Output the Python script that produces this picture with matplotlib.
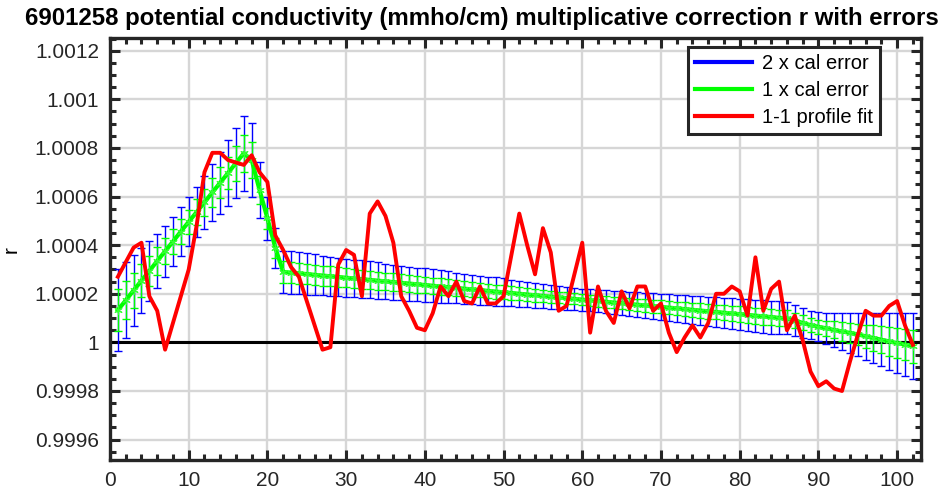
import numpy as np
import matplotlib
matplotlib.use('Agg')
import matplotlib.pyplot as plt
from matplotlib.lines import Line2D
from matplotlib.ticker import MultipleLocator, FixedLocator

plt.rcParams['font.family'] = ['Liberation Sans', 'DejaVu Sans']

# profile numbers
profiles = np.arange(1, 103)

# calibration fit r (centre of the error bars)
r_fit = [1.000133, 1.000173, 1.000214, 1.000254, 1.000294, 1.000335, 1.000375, 1.000415,
         1.000456, 1.000496, 1.000536, 1.000576, 1.000617, 1.000657, 1.000697, 1.000738,
         1.000778, 1.000750, 1.000627, 1.000510, 1.000390, 1.000290, 1.000287, 1.000284,
         1.000281, 1.000278, 1.000275, 1.000272, 1.000269, 1.000266, 1.000263, 1.000260,
         1.000257, 1.000254, 1.000251, 1.000248, 1.000245, 1.000242, 1.000239, 1.000236,
         1.000233, 1.000230, 1.000227, 1.000224, 1.000221, 1.000218, 1.000215, 1.000212,
         1.000209, 1.000206, 1.000203, 1.000200, 1.000197, 1.000194, 1.000191, 1.000188,
         1.000185, 1.000182, 1.000179, 1.000176, 1.000173, 1.000170, 1.000167, 1.000164,
         1.000161, 1.000158, 1.000155, 1.000152, 1.000149, 1.000146, 1.000143, 1.000140,
         1.000137, 1.000134, 1.000131, 1.000128, 1.000125, 1.000122, 1.000119, 1.000116,
         1.000113, 1.000110, 1.000107, 1.000104, 1.000101, 1.000099, 1.000090, 1.000080,
         1.000071, 1.000064, 1.000058, 1.000051, 1.000045, 1.000039, 1.000033, 1.000025,
         1.000018, 1.000011, 1.000004, 0.999997, 0.999991, 0.999985]

# 2 x cal error half-width, in units of 1e-6
err_2x_ppm = [170, 156, 145, 133, 122, 112, 105, 101, 100, 101, 104, 110, 118, 127, 135, 144,
              154, 151, 116, 89, 82, 88, 87, 86, 85, 84, 82, 81, 80, 79, 78, 77,
              76, 75, 73, 72, 71, 70, 69, 68, 67, 66, 65, 63, 62, 61, 60, 59,
              58, 57, 55, 54, 53, 52, 51, 49, 48, 47, 46, 45, 45, 46, 47, 48,
              49, 50, 51, 52, 53, 54, 55, 56, 57, 58, 59, 60, 61, 62, 63, 64,
              65, 66, 67, 68, 68, 66, 64, 62, 59, 59, 64, 70, 76, 82, 88, 96,
              103, 110, 117, 124, 130, 136]

# 1-1 profile fit
r_profile = [1.00027, 1.00033, 1.00039, 1.00041, 1.00019, 1.00013, 0.99997, 1.00008,
             1.00019, 1.00030, 1.00048, 1.00070, 1.00078, 1.00078, 1.00075, 1.00074,
             1.00073, 1.00077, 1.00070, 1.00066, 1.00044, 1.00038, 1.00031, 1.00027,
             1.00017, 1.00007, 0.99997, 0.99998, 1.00032, 1.00038, 1.00036, 1.00019,
             1.00053, 1.00058, 1.00052, 1.00041, 1.00019, 1.00013, 1.00006, 1.00005,
             1.00012, 1.00023, 1.00019, 1.00025, 1.00017, 1.00016, 1.00023, 1.00016,
             1.00016, 1.00019, 1.00036, 1.00053, 1.00040, 1.00028, 1.00047, 1.00037,
             1.00013, 1.00015, 1.00028, 1.00041, 1.00004, 1.00023, 1.00013, 1.00008,
             1.00021, 1.00014, 1.00023, 1.00023, 1.00013, 1.00016, 1.00004, 0.99996,
             1.00002, 1.00007, 1.00002, 1.00008, 1.00020, 1.00020, 1.00023, 1.00021,
             1.00011, 1.00035, 1.00013, 1.00022, 1.00025, 1.00005, 1.00011, 1.00001,
             0.99988, 0.99982, 0.99984, 0.99981, 0.99980, 0.99992, 1.00003, 1.00013,
             1.00011, 1.00011, 1.00015, 1.00017, 1.00007, 0.99999]

ytick_vals = [0.9996, 0.9998, 1.0, 1.0002, 1.0004, 1.0006, 1.0008, 1.001, 1.0012]
ytick_labels = ['0.9996', '0.9998', '1', '1.0002', '1.0004', '1.0006', '1.0008', '1.001', '1.0012']

r_fit = np.array(r_fit)
err2 = np.array(err_2x_ppm) * 1e-6
err1 = err2 / 2

fig = plt.figure(figsize=(9.45, 4.97), dpi=100)
ax = fig.add_axes([0.1164, 0.0744, 0.8579, 0.8485])

ax.grid(True, which='major', color='#d6d6d6', linewidth=1.7, zorder=0)
ax.set_axisbelow(True)

ax.axhline(1.0, color='black', linewidth=2.2, zorder=2)

# 2 x cal error
ax.errorbar(profiles, r_fit, yerr=err2, fmt='none', ecolor='blue', elinewidth=1,
            capsize=3, capthick=1, zorder=3)
ax.plot(profiles, r_fit, color='blue', linewidth=1, zorder=3)
# 1 x cal error
ax.errorbar(profiles, r_fit, yerr=err1, fmt='none', ecolor='#00ff00', elinewidth=1,
            capsize=3, capthick=1, zorder=4)
ax.plot(profiles, r_fit, color='#00ff00', linewidth=3, marker=(6, 2, 0),
        markersize=6, markeredgecolor='#33ff33', markeredgewidth=0.8, zorder=5)
# profile fit
ax.plot(profiles, r_profile, color='red', linewidth=2.8, zorder=6)

ax.set_xlim(0, 103)
ax.set_ylim(0.999516, 1.001251)
ax.xaxis.set_major_locator(MultipleLocator(10))
ax.xaxis.set_minor_locator(MultipleLocator(2))
ax.yaxis.set_major_locator(FixedLocator(ytick_vals))
ax.set_yticklabels(ytick_labels)
ax.yaxis.set_minor_locator(MultipleLocator(0.00005))

ax.tick_params(which='both', direction='in', top=True, right=True, width=2.2,
               labelsize=15, colors='#262626')
ax.tick_params(which='major', length=7, pad=8)
ax.tick_params(which='minor', length=4)
for s in ax.spines.values():
    s.set_linewidth(2.4)
    s.set_color('#262626')

ax.set_ylabel('r', fontsize=15, labelpad=10)

fig.text(0.510, 0.962, '6901258 potential conductivity (mmho/cm) multiplicative correction r with errors',
         ha='center', va='center', fontsize=17.3, fontweight='bold')

handles = [Line2D([], [], color='blue', linewidth=3),
           Line2D([], [], color='#00ff00', linewidth=3),
           Line2D([], [], color='red', linewidth=3)]
leg = ax.legend(handles, ['2 x cal error', '1 x cal error', '1-1 profile fit'],
                loc='upper right', bbox_to_anchor=(0.9312, 0.906),
                bbox_transform=fig.transFigure, fontsize=14.5, handlelength=2.8,
                fancybox=False, framealpha=1, edgecolor='#262626',
                borderpad=0.35, labelspacing=0.4, handletextpad=0.5, borderaxespad=0)
leg.get_frame().set_linewidth(2.2)

fig.savefig('out.png', dpi=100)
